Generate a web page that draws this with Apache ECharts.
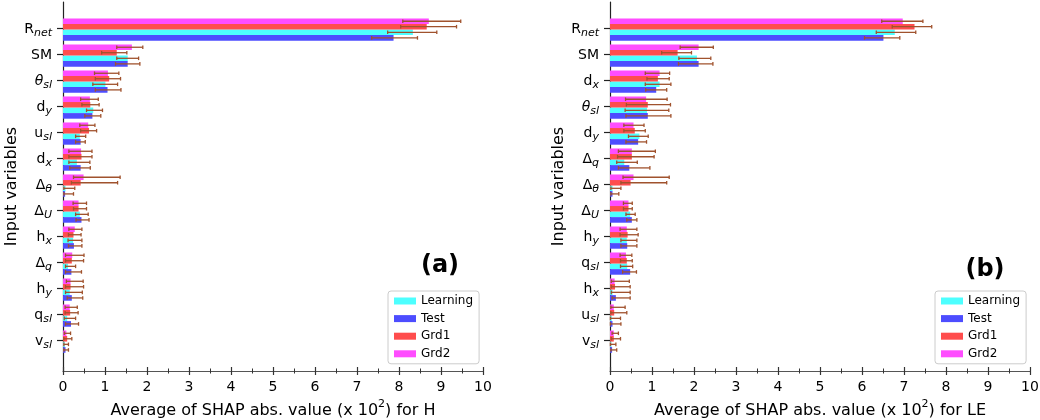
<!DOCTYPE html>
<html>
<head>
<meta charset="utf-8">
<script src="https://cdn.jsdelivr.net/npm/echarts@6/dist/echarts.min.js"></script>
<style>html,body{margin:0;padding:0;background:#fff}#c{width:1040px;height:420px}</style>
</head>
<body>
<div id="c"></div>
<script>
// ---------- categories ----------
const catsA = ['R_net','SM','θ_sl','d_y','u_sl','d_x','Δ_θ','Δ_U','h_x','Δ_q','h_y','q_sl','v_sl'];
const catsB = ['R_net','SM','d_x','θ_sl','d_y','Δ_q','Δ_θ','Δ_U','h_y','q_sl','h_x','u_sl','v_sl'];
const seriesNames = ['Learning','Test','Grd1','Grd2'];
const xTicks = [0,1,2,3,4,5,6,7,8,9,10];

// ---------- panel (a): H ----------
const aLearning   = [8.33,1.54,1.01,0.72,0.40,0.33,0.06,0.40,0.24,0.12,0.16,0.10,0.04];
const aLearningLo = [7.73,1.28,0.71,0.56,0.30,0.14,0.02,0.30,0.12,0.06,0.06,0.03,0.02];
const aLearningHi = [8.90,1.80,1.30,0.94,0.54,0.64,0.28,0.60,0.45,0.30,0.46,0.30,0.13];
const aTest       = [7.87,1.54,1.06,0.70,0.42,0.42,0.05,0.44,0.26,0.20,0.21,0.19,0.06];
const aTestLo     = [7.35,1.25,0.77,0.52,0.30,0.16,0.02,0.31,0.13,0.06,0.10,0.06,0.02];
const aTestHi     = [8.44,1.83,1.38,0.90,0.53,0.65,0.25,0.62,0.45,0.44,0.47,0.37,0.13];
const aGrd1       = [8.66,1.28,1.10,0.65,0.62,0.44,0.42,0.37,0.25,0.21,0.18,0.17,0.10];
const aGrd1Lo     = [8.04,0.92,0.77,0.45,0.42,0.14,0.20,0.25,0.13,0.06,0.06,0.05,0.02];
const aGrd1Hi     = [9.37,1.52,1.37,0.86,0.80,0.69,1.30,0.56,0.43,0.49,0.49,0.36,0.21];
const aGrd2       = [8.71,1.64,1.07,0.64,0.60,0.43,0.49,0.37,0.28,0.22,0.18,0.16,0.08];
const aGrd2Lo     = [8.09,1.28,0.75,0.42,0.40,0.14,0.25,0.24,0.14,0.06,0.08,0.05,0.03];
const aGrd2Hi     = [9.47,1.90,1.33,0.84,0.76,0.69,1.36,0.56,0.45,0.50,0.48,0.34,0.18];

// ---------- panel (b): LE ----------
const bLearning   = [6.78,2.07,1.18,0.88,0.70,0.34,0.06,0.48,0.40,0.41,0.06,0.04,0.03];
const bLearningLo = [6.34,1.64,0.84,0.36,0.44,0.16,0.02,0.38,0.26,0.25,0.03,0.01,0.01];
const bLearningHi = [7.28,2.40,1.45,1.40,0.91,0.65,0.26,0.60,0.64,0.54,0.48,0.25,0.14];
const bTest       = [6.51,2.11,1.10,0.90,0.67,0.46,0.06,0.52,0.41,0.48,0.14,0.06,0.05];
const bTestLo     = [6.06,1.63,0.85,0.38,0.38,0.20,0.02,0.40,0.26,0.30,0.05,0.01,0.02];
const bTestHi     = [6.90,2.45,1.35,1.45,0.87,0.95,0.21,0.64,0.64,0.63,0.48,0.26,0.16];
const bGrd1       = [7.25,1.61,1.14,0.90,0.59,0.52,0.49,0.44,0.42,0.40,0.12,0.10,0.09];
const bGrd1Lo     = [6.72,1.23,0.88,0.39,0.33,0.18,0.26,0.32,0.24,0.25,0.03,0.02,0.03];
const bGrd1Hi     = [7.66,1.94,1.41,1.44,0.84,1.05,1.35,0.53,0.67,0.53,0.48,0.40,0.25];
const bGrd2       = [6.97,2.11,1.18,0.86,0.56,0.52,0.56,0.44,0.40,0.38,0.11,0.09,0.09];
const bGrd2Lo     = [6.47,1.67,0.84,0.37,0.33,0.20,0.31,0.32,0.24,0.24,0.03,0.02,0.05];
const bGrd2Hi     = [7.45,2.46,1.42,1.36,0.81,1.08,1.41,0.53,0.64,0.52,0.46,0.36,0.20];

// ---------- styling ----------
const FONT = 'DejaVu Sans';
const colors = {Learning:'#4dffff', Test:'#4d4dff', Grd1:'#ff4d4d', Grd2:'#ff4dff'};
const offsets = {Grd2:-0.26, Grd1:-0.05, Learning:0.165, Test:0.38};
const BAR_H = 0.215;
const ERR_COLOR = '#a0522d';

function catLabel(cats){
  return function(val){
    const i = Math.round(val);
    const c = cats[i];
    if (c === undefined) return '';
    const parts = c.split('_');
    const mStyle = parts[0] === 'θ' ? 'mi' : 'm';
    return parts[1] ? '{' + mStyle + '|' + parts[0] + '}{s|' + parts[1] + '}' : '{m|' + parts[0] + '}';
  };
}

const tickIdx = catsA.map((_, i) => i);

function yAxisFor(grid, cats){
  return {
    type:'value', gridIndex:grid, inverse:true, min:-1, max:13.19,
    name:'Input variables', nameLocation:'middle', nameGap:43,
    nameTextStyle:{fontFamily:FONT, fontSize:16, color:'#000'},
    axisLine:{show:true, lineStyle:{color:'#222', width:1.2}},
    axisTick:{show:true, length:6, customValues:tickIdx, lineStyle:{color:'#222', width:1.2}},
    axisLabel:{customValues:tickIdx, margin:11, padding:[5,0,0,0], formatter:catLabel(cats),
      rich:{
        m:{fontFamily:FONT, fontSize:14, color:'#000', lineHeight:16, verticalAlign:'top'},
        mi:{fontFamily:FONT, fontSize:14, fontStyle:'italic', color:'#000', lineHeight:16, verticalAlign:'top'},
        s:{fontFamily:FONT, fontSize:11, fontStyle:'italic', color:'#000', lineHeight:11, verticalAlign:'bottom', padding:[6,0,0,0]}
      }},
    splitLine:{show:false}
  };
}

function xAxisFor(grid, target){
  return [{
    type:'value', gridIndex:grid, min:0, max:10, interval:1, position:'bottom',
    name:'{t|Average of SHAP abs. value (x 10}{sup|2}{t|) for ' + target + '}',
    nameLocation:'middle', nameGap:24,
    nameTextStyle:{rich:{
      t:{fontFamily:FONT, fontSize:16, color:'#000', lineHeight:20, verticalAlign:'bottom'},
      sup:{fontFamily:FONT, fontSize:11, color:'#000', lineHeight:11, verticalAlign:'top'}
    }},
    axisLine:{show:true, onZero:false, lineStyle:{color:'#555', width:1.2}},
    axisTick:{show:true, length:4, lineStyle:{color:'#333', width:1.2}},
    minorTick:{show:true, splitNumber:2, length:2.5, lineStyle:{color:'#333', width:1}},
    axisLabel:{fontFamily:FONT, fontSize:14, color:'#000', margin:9,
      formatter:(v)=> xTicks.indexOf(v) >= 0 ? String(v) : ''},
    splitLine:{show:false}, minorSplitLine:{show:false}
  },{
    type:'value', gridIndex:grid, min:0, max:10, interval:1, position:'bottom',
    axisLine:{show:false, onZero:false},
    axisTick:{show:true, inside:true, length:4, lineStyle:{color:'#333', width:1.2}},
    minorTick:{show:true, splitNumber:2, length:2.5, lineStyle:{color:'#333', width:1}},
    axisLabel:{show:false}, splitLine:{show:false}, minorSplitLine:{show:false}
  }];
}

function barSeries(name, vals, xIdx, yIdx){
  const off = offsets[name];
  const color = colors[name];
  return {
    type:'custom', name:name, xAxisIndex:xIdx, yAxisIndex:yIdx,
    itemStyle:{color:color},
    encode:{x:0, y:1},
    data: vals.map((v, i) => [v, i]),
    renderItem:function(params, api){
      const v = api.value(0), c = api.value(1);
      const p0 = api.coord([0, c + off]);
      const p1 = api.coord([v, c + off]);
      const h = Math.abs(api.size([0, BAR_H])[1]);
      return {type:'rect', shape:{x:p0[0], y:p0[1] - h/2, width:p1[0] - p0[0], height:h},
              style:{fill:color}};
    },
    z:2
  };
}

function errSeries(name, lo, hi, xIdx, yIdx){
  const off = offsets[name];
  return {
    type:'custom', name:'err-' + name, xAxisIndex:xIdx, yAxisIndex:yIdx,
    encode:{x:[0,1], y:2},
    data: lo.map((l, i) => [l, hi[i], i]),
    renderItem:function(params, api){
      const c = api.value(2);
      const a = api.coord([api.value(0), c + off]);
      const b = api.coord([api.value(1), c + off]);
      const cap = 1.8;
      const st = {stroke:ERR_COLOR, lineWidth:1.3};
      return {type:'group', children:[
        {type:'line', shape:{x1:a[0], y1:a[1], x2:b[0], y2:b[1]}, style:st},
        {type:'line', shape:{x1:a[0], y1:a[1]-cap, x2:a[0], y2:a[1]+cap}, style:st},
        {type:'line', shape:{x1:b[0], y1:b[1]-cap, x2:b[0], y2:b[1]+cap}, style:st}
      ]};
    },
    z:3
  };
}

const panelA = {Learning:[aLearning,aLearningLo,aLearningHi], Test:[aTest,aTestLo,aTestHi], Grd1:[aGrd1,aGrd1Lo,aGrd1Hi], Grd2:[aGrd2,aGrd2Lo,aGrd2Hi]};
const panelB = {Learning:[bLearning,bLearningLo,bLearningHi], Test:[bTest,bTestLo,bTestHi], Grd1:[bGrd1,bGrd1Lo,bGrd1Hi], Grd2:[bGrd2,bGrd2Lo,bGrd2Hi]};

const series = [];
const drawOrder = ['Learning','Test','Grd1','Grd2'];
drawOrder.forEach(n => series.push(barSeries(n, panelA[n][0], 0, 0)));
drawOrder.forEach(n => series.push(barSeries(n, panelB[n][0], 2, 1)));
drawOrder.forEach(n => series.push(errSeries(n, panelA[n][1], panelA[n][2], 0, 0)));
drawOrder.forEach(n => series.push(errSeries(n, panelB[n][1], panelB[n][2], 2, 1)));

function legendAt(left){
  return {
    left:left, top:291, orient:'vertical', icon:'rect',
    data:seriesNames, itemWidth:22, itemHeight:7, itemGap:5.6,
    padding:[4,6,4,6], borderColor:'#ccc', borderWidth:1, borderRadius:3,
    backgroundColor:'rgba(255,255,255,0.8)', selectedMode:false,
    textStyle:{fontFamily:FONT, fontSize:12, color:'#000', lineHeight:12}
  };
}

const option = {
  animation:false,
  backgroundColor:'#fff',
  grid:[
    {left:63, top:2, width:420, height:369, outerBoundsMode:'none', containLabel:false},
    {left:610, top:2, width:420, height:369, outerBoundsMode:'none', containLabel:false}
  ],
  xAxis:[].concat(xAxisFor(0, 'H'), xAxisFor(1, 'LE')),
  yAxis:[yAxisFor(0, catsA), yAxisFor(1, catsB)],
  legend:[legendAt(388), legendAt(935)],
  graphic:[
    {type:'text', x:440, y:266, style:{text:'(a)', textAlign:'center', textVerticalAlign:'middle', font:'bold 24px "DejaVu Sans"', fill:'#000'}},
    {type:'text', x:985, y:270, style:{text:'(b)', textAlign:'center', textVerticalAlign:'middle', font:'bold 24px "DejaVu Sans"', fill:'#000'}}
  ],
  series:series
};

const chart = echarts.init(document.getElementById('c'));
chart.setOption(option);
</script>
</body>
</html>
